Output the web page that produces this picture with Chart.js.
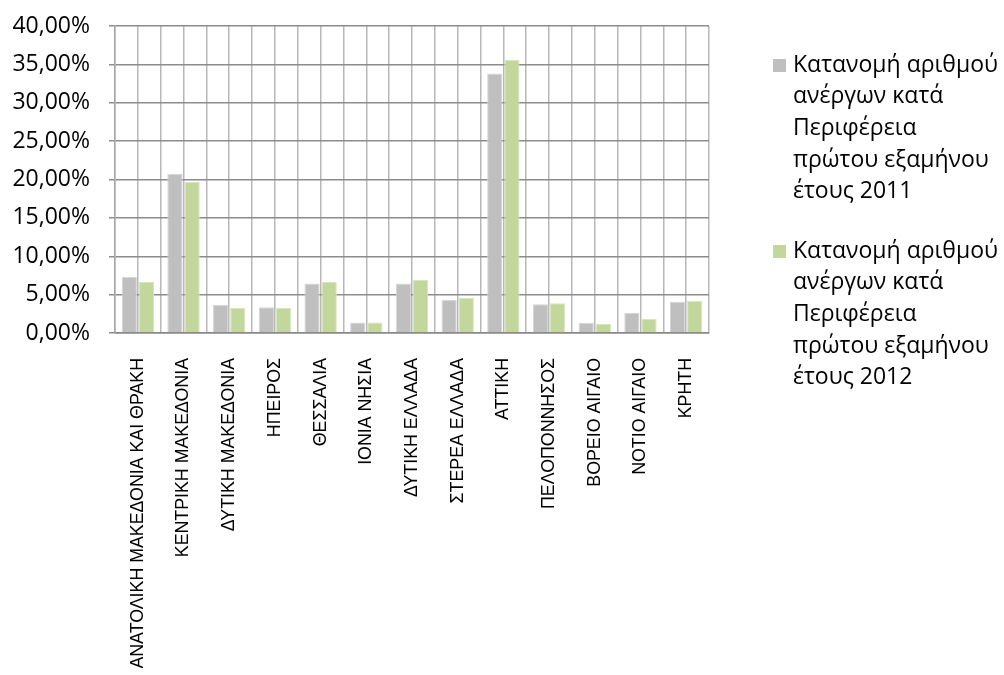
<!DOCTYPE html>
<html>
<head>
<meta charset="utf-8">
<script src="https://cdn.jsdelivr.net/npm/chart.js@4/dist/chart.umd.min.js"></script>
<style>
  html, body { margin: 0; padding: 0; background: #fff; }
  #wrap { width: 1004px; height: 675px; }
</style>
</head>
<body>
<div id="wrap"><canvas id="chart"></canvas></div>
<script>
const regions = [
  'ΑΝΑΤΟΛΙΚΗ ΜΑΚΕΔΟΝΙΑ ΚΑΙ ΘΡΑΚΗ', 'ΚΕΝΤΡΙΚΗ ΜΑΚΕΔΟΝΙΑ', 'ΔΥΤΙΚΗ ΜΑΚΕΔΟΝΙΑ',
  'ΗΠΕΙΡΟΣ', 'ΘΕΣΣΑΛΙΑ', 'ΙΟΝΙΑ ΝΗΣΙΑ', 'ΔΥΤΙΚΗ ΕΛΛΑΔΑ', 'ΣΤΕΡΕΑ ΕΛΛΑΔΑ',
  'ΑΤΤΙΚΗ', 'ΠΕΛΟΠΟΝΝΗΣΟΣ', 'ΒΟΡΕΙΟ ΑΙΓΑΙΟ', 'ΝΟΤΙΟ ΑΙΓΑΙΟ', 'ΚΡΗΤΗ'
];
// percentages
const share2011 = [7.29, 20.74, 3.69, 3.34, 6.46, 1.38, 6.46, 4.30, 33.80, 3.73, 1.34, 2.64, 4.08];
const share2012 = [6.64, 19.66, 3.30, 3.30, 6.64, 1.38, 6.90, 4.60, 35.60, 3.86, 1.21, 1.86, 4.20];
const legend2011 = ['Κατανομή αριθμού', 'ανέργων κατά', 'Περιφέρεια', 'πρώτου εξαμήνου', 'έτους 2011'];
const legend2012 = ['Κατανομή αριθμού', 'ανέργων κατά', 'Περιφέρεια', 'πρώτου εξαμήνου', 'έτους 2012'];
const yTicks = [0, 5, 10, 15, 20, 25, 30, 35, 40];

// legend drawn at the right, with the text wrapped like the original
const sideLegend = {
  id: 'sideLegend',
  afterDraw(chart) {
    const c = chart.ctx;
    const x0 = chart.chartArea.right + 64;
    const lineH = 31.7;
    let y = 65;
    c.save();
    c.font = '23px "Open Sans"';
    c.textBaseline = 'middle';
    chart.data.datasets.forEach(ds => {
      c.fillStyle = ds.backgroundColor;
      c.fillRect(x0, y - 6, 13, 13);
      c.fillStyle = '#000';
      ds.label.forEach((line, i) => c.fillText(line, x0 + 20, y + i * lineH));
      y += 186;
    });
    c.restore();
  }
};

const ctx = document.getElementById('chart').getContext('2d');

new Chart(ctx, {
  type: 'bar',
  data: {
    labels: regions,
    datasets: [{
      label: legend2011,
      data: share2011,
      backgroundColor: '#bfbfbf',
      borderColor: '#d6d6d6',
      borderWidth: 1,
      categoryPercentage: 0.75,
      barPercentage: 0.89
    }, {
      label: legend2012,
      data: share2012,
      backgroundColor: '#c3d69b',
      borderColor: '#d8e5bf',
      borderWidth: 1,
      categoryPercentage: 0.75,
      barPercentage: 0.89
    }]
  },
  plugins: [sideLegend],
  options: {
    responsive: true,
    maintainAspectRatio: false,
    animation: false,
    layout: { padding: { left: 13, top: 26, right: 295, bottom: 7 } },
    plugins: {
      tooltip: { enabled: false },
      legend: { display: false }
    },
    scales: {
      x: {
        offset: true,
        grid: { offset: true, color: '#b8b8b8', lineWidth: 1.5, drawTicks: false },
        border: { color: '#888', width: 1.5 },
        ticks: {
          color: '#000',
          minRotation: 90,
          maxRotation: 90,
          autoSkip: false,
          padding: 25,
          font: { family: 'Liberation Sans', size: 17.8 }
        },
        // room for the long rotated names (Chart.js caps it at half the height)
        afterFit: (axis) => {
          axis.height = 335;
          axis.paddingLeft = 0;
          axis.paddingRight = 0;
        }
      },
      xMid: {
        type: 'category',
        position: 'top',
        offset: true,
        grid: { offset: false, color: '#b8b8b8', lineWidth: 1.5, drawTicks: false },
        border: { display: false },
        ticks: { display: false }
      },
      y: {
        min: yTicks[0],
        max: yTicks[yTicks.length - 1],
        ticks: {
          stepSize: yTicks[1] - yTicks[0],
          color: '#000',
          padding: 19,
          font: { family: 'Open Sans', size: 23 },
          callback: (v) => v.toFixed(2).replace('.', ',') + '%'
        },
        grid: { color: '#8c8c8c', lineWidth: 1.5, tickLength: 6 },
        border: { color: '#a6a6a6', width: 1.5 },
        afterFit: (axis) => {
          axis.width = 102;
          axis.paddingTop = 14;
          axis.paddingBottom = 0;
        }
      }
    }
  }
});
</script>
</body>
</html>
